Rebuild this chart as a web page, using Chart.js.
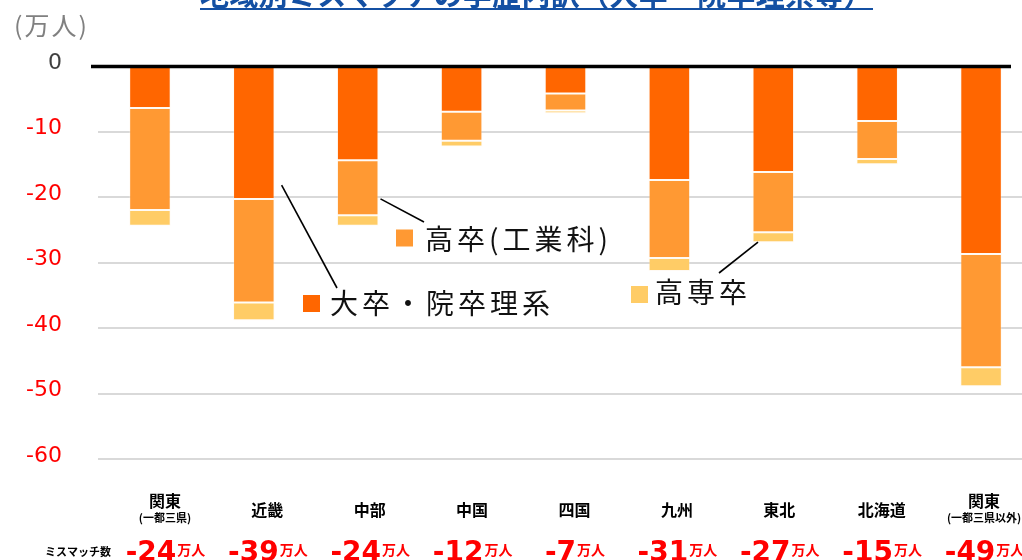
<!DOCTYPE html>
<html><head><meta charset="utf-8">
<script src="https://cdn.jsdelivr.net/npm/chart.js@4/dist/chart.umd.min.js"></script>
<style>
html,body{margin:0;padding:0;background:#fff;overflow:hidden;width:1022px;height:560px;}
#wrap{position:relative;width:1022px;height:560px;overflow:hidden;}
#title{position:absolute;left:200px;top:-21px;font:bold 29px "Noto Sans CJK JP";line-height:29px;letter-spacing:0.3px;color:#1450A3;border-bottom:2.5px solid #1450A3;white-space:nowrap;}
canvas{position:absolute;left:0;top:0;}
</style></head><body>
<div id="wrap">
<canvas id="c" width="1040" height="560"></canvas>
<div id="title">地域別ミスマッチの学歴内訳（大卒・院卒理系等）</div>
</div>
<script>
// 地域ごとの不足数（万人）
const regions = [['関東', '(一都三県)'], ['近畿'], ['中部'], ['中国'], ['四国'], ['九州'], ['東北'], ['北海道'], ['関東', '(一都三県以外)']];
const univScience = [-6.4, -20.3, -14.4, -7.0, -4.2, -17.4, -16.2, -8.4, -28.7];   // 大卒・院卒理系
const highSchoolTech = [-15.6, -15.8, -8.4, -4.4, -2.6, -11.9, -9.2, -5.8, -17.3]; // 高卒(工業科)
const kosen = [-2.4, -2.7, -1.6, -0.9, -0.4, -2.0, -1.5, -0.8, -2.9];             // 高専卒
const yTicks = [0, -10, -20, -30, -40, -50, -60];

const COL_DARK = '#FF6600', COL_MID = '#FF9933', COL_LIGHT = '#FFCC66';
const CJK = '"Noto Sans CJK JP"';

// 引き出し線付きの系列ラベル
const callouts = [
  { ds: 0, idx: 1, from: 'right', dx: 7, frac: 0.896, end: [337, 288], sq: [303, 295], text: [330, 303], label: '大卒・院卒理系', color: COL_DARK },
  { ds: 1, idx: 2, from: 'right', dx: 2, frac: 0.70, end: [424, 222], sq: [396, 229.5], text: [425, 239], label: '高卒(工業科)', color: COL_MID },
  { ds: 2, idx: 6, from: 'left', dx: 5.5, frac: 1.0, end: [719, 273], sq: [631, 286], text: [655, 292], label: '高専卒', color: COL_LIGHT }
];

const decor = {
  id: 'decor',
  afterDatasetsDraw(chart) {
    const { ctx, chartArea: ca, scales: { x, y } } = chart;
    ctx.save();
    // ゼロの基準線
    const y0 = y.getPixelForValue(0);
    ctx.strokeStyle = '#000';
    ctx.lineWidth = 3.5;
    ctx.beginPath();
    ctx.moveTo(ca.left - 7, y0 + 0.5);
    ctx.lineTo(1011, y0 + 0.5);
    ctx.stroke();

    // 単位
    ctx.fillStyle = '#808080';
    ctx.font = '25px ' + CJK;
    ctx.letterSpacing = '2px';
    ctx.textAlign = 'left';
    ctx.textBaseline = 'middle';
    ctx.fillText('(万人)', 14, 25);
    ctx.letterSpacing = '0px';

    // 系列ラベルと引き出し線
    for (const c of callouts) {
      const el = chart.getDatasetMeta(c.ds).data[c.idx];
      const sx = c.from === 'right' ? el.x + el.width / 2 + c.dx : el.x - el.width / 2 + c.dx;
      const sy = el.base + (el.y - el.base) * c.frac;
      ctx.strokeStyle = '#000';
      ctx.lineWidth = 1.6;
      ctx.beginPath();
      ctx.moveTo(sx, sy);
      ctx.lineTo(c.end[0], c.end[1]);
      ctx.stroke();
      ctx.fillStyle = c.color;
      ctx.fillRect(c.sq[0], c.sq[1], 17, 17);
      ctx.fillStyle = '#111';
      ctx.font = '28px ' + CJK;
      ctx.letterSpacing = '4px';
      ctx.textBaseline = 'middle';
      ctx.fillText(c.label, c.text[0], c.text[1]);
      ctx.letterSpacing = '0px';
    }

    // 地域名とミスマッチ数
    const n = regions.length;
    const first = x.getPixelForValue(0) + 15, last = x.getPixelForValue(n - 1) + 3;
    ctx.textAlign = 'center';
    ctx.textBaseline = 'middle';
    regions.forEach((r, i) => {
      const cx = first + (last - first) * i / (n - 1);
      ctx.fillStyle = '#000';
      if (r.length > 1) {
        ctx.font = 'bold 16px ' + CJK;
        ctx.fillText(r[0], cx, 501);
        ctx.font = 'bold 11px ' + CJK;
        ctx.fillText(r[1], cx, 518);
      } else {
        ctx.font = 'bold 16px ' + CJK;
        ctx.fillText(r[0], cx, 509.5);
      }
      const total = Math.round(univScience[i] + highSchoolTech[i] + kosen[i]);
      const numTxt = String(total);
      ctx.font = 'bold 28px "DejaVu Sans"';
      const w1 = ctx.measureText(numTxt).width;
      ctx.font = 'bold 14px ' + CJK;
      const w2 = ctx.measureText('万人').width;
      const x0 = cx - (w1 + w2) / 2;
      ctx.fillStyle = '#FF0000';
      ctx.textAlign = 'left';
      ctx.textBaseline = 'alphabetic';
      ctx.font = 'bold 28px "DejaVu Sans"';
      ctx.fillText(numTxt, x0, 561);
      ctx.font = 'bold 14px ' + CJK;
      ctx.fillText('万人', x0 + w1 + 1, 555);
      ctx.textAlign = 'center';
      ctx.textBaseline = 'middle';
    });
    ctx.fillStyle = '#000';
    ctx.font = 'bold 11px ' + CJK;
    ctx.textAlign = 'left';
    ctx.fillText('ミスマッチ数', 45, 552);
    ctx.restore();
  }
};

const barStyle = { borderWidth: 1, borderColor: 'rgba(255,238,220,0.3)', borderSkipped: false };

new Chart(document.getElementById('c'), {
  type: 'bar',
  data: {
    labels: regions.map(r => r.join('')),
    datasets: [
      { label: '大卒・院卒理系', data: univScience, backgroundColor: COL_DARK, ...barStyle },
      { label: '高卒(工業科)', data: highSchoolTech, backgroundColor: COL_MID, ...barStyle },
      { label: '高専卒', data: kosen, backgroundColor: COL_LIGHT, ...barStyle }
    ]
  },
  options: {
    responsive: false,
    animation: false,
    events: [],
    layout: { padding: { top: 66, bottom: 101, left: 0, right: 7 } },
    datasets: { bar: { barPercentage: 0.4, categoryPercentage: 1.0 } },
    plugins: { legend: { display: false }, tooltip: { enabled: false }, title: { display: false } },
    scales: {
      x: { stacked: true, display: false },
      y: {
        stacked: true,
        min: -60, max: 0,
        afterBuildTicks(s) { s.ticks = yTicks.map(v => ({ value: v })); },
        afterFit(s) { s.width = 98; },
        border: { display: false },
        grid: {
          drawTicks: false,
          lineWidth: 2,
          color: c => (c.tick && c.tick.value === 0) ? 'rgba(0,0,0,0)' : '#D9D9D9'
        },
        ticks: {
          padding: 36,
          labelOffset: -3,
          font: { family: '"DejaVu Sans"', size: 22 },
          color: c => (c.tick && c.tick.value === 0) ? '#404040' : '#FF0000',
          callback: v => String(v)
        }
      }
    }
  },
  plugins: [decor]
});
</script>
</body></html>
